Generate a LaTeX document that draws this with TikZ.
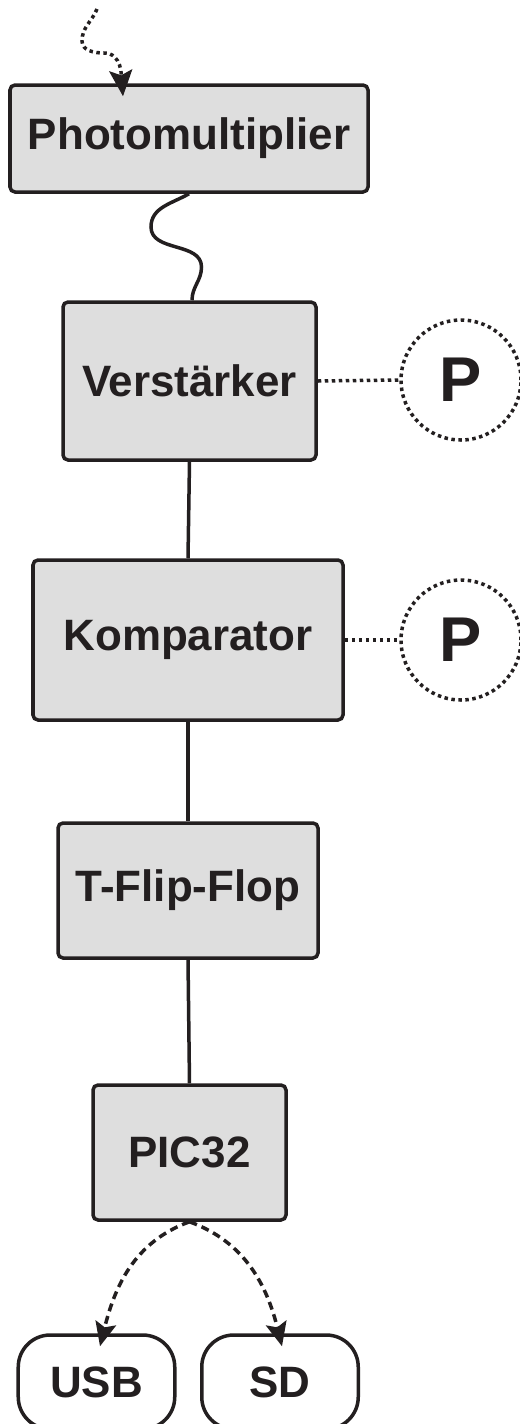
\documentclass[tikz,border=0pt]{standalone}
\usepackage{fontspec}
\setmainfont{Liberation Sans}
\usetikzlibrary{arrows.meta,positioning}
\definecolor{pmInk}{HTML}{231F20}
\definecolor{pmGray}{HTML}{DEDEDE}
\tikzset{
  block/.style   ={draw=pmInk,fill=pmGray,line width=0.07cm,rounded corners=0.1cm,
                   inner sep=0pt,text=pmInk,font=\fontsize{25}{30}\selectfont\bfseries},
  port/.style    ={draw=pmInk,fill=white,line width=0.07cm,rounded corners=0.64cm,
                   inner sep=0pt,text=pmInk,font=\fontsize{25}{30}\selectfont\bfseries,
                   minimum width=3.13cm,minimum height=1.88cm},
  param/.style   ={circle,draw=pmInk,line width=0.07cm,dash pattern=on 0.07cm off 0.07cm,
                   minimum size=2.4cm,inner sep=0pt,text=pmInk,
                   font=\fontsize{36}{40}\selectfont\bfseries},
  wire/.style    ={pmInk,line width=0.07cm},
  dotwire/.style ={wire,dash pattern=on 0.07cm off 0.07cm},
  photon/.style  ={dotwire,-{Stealth[length=5.2mm,width=4.6mm,inset=1mm]}},
  save/.style    ={wire,dash pattern=on 0.16cm off 0.1cm,
                   -{Stealth[length=4.8mm,width=4.2mm,inset=0.9mm]}},
}
\begin{document}
\begin{tikzpicture}
\useasboundingbox (0,0) rectangle (10.4,-28.48);

% signal chain
\node[block,minimum width=7.16cm,minimum height=2.14cm] (pmt)  at (3.78,-2.77)  {Photomultiplier};
\node[block,minimum width=5.06cm,minimum height=3.16cm] (amp)  at (3.79,-7.62)  {Verstärker};
\node[block,minimum width=6.2cm, minimum height=3.2cm]  (comp) at (3.76,-12.8)  {Komparator};
\node[block,minimum width=5.2cm, minimum height=2.7cm]  (tff)  at (3.76,-17.81) {T-Flip-Flop};
\node[block,minimum width=3.86cm,minimum height=2.7cm]  (pic)  at (3.79,-23.05) {PIC32};

% potentiometers
\node[param] (potA) at (9.22,-7.6)  {P};
\node[param] (potB) at (9.22,-12.8) {P};

% storage
\node[port] (usb) at (1.93,-27.64) {USB};
\node[port] (sd)  at (5.6,-27.64)  {SD};

% incoming light
\coordinate (light) at (1.94,-0.18);
\draw[photon] (light) to[out=-112,in=90] (1.64,-0.82) to[out=-90,in=180] (2.08,-1.06)
  to[out=0,in=95] ([xshift=-1.32cm,yshift=-0.26cm]pmt.north);

% pmt -> amplifier (cable)
\draw[wire] (pmt.south) to[out=-150,in=90] (3.02,-4.54) to[out=-90,in=90] (4.03,-5.34)
  to[out=-90,in=90] ([xshift=0.05cm]amp.north);

\draw[wire] (amp.south) -- (comp.north);
\draw[wire] (comp.south) -- (tff.north);
\draw[wire] (tff.south) -- (pic.north);

\draw[dotwire] (amp.east) -- (potA.west);
\draw[dotwire] (comp.east) -- (potB.west);

\draw[save] (pic.south) to[out=-160,in=76] ([xshift=0.07cm,yshift=-0.26cm]usb.north);
\draw[save] (pic.south) to[out=-20,in=104] ([xshift=0.04cm,yshift=-0.26cm]sd.north);
\end{tikzpicture}
\end{document}
